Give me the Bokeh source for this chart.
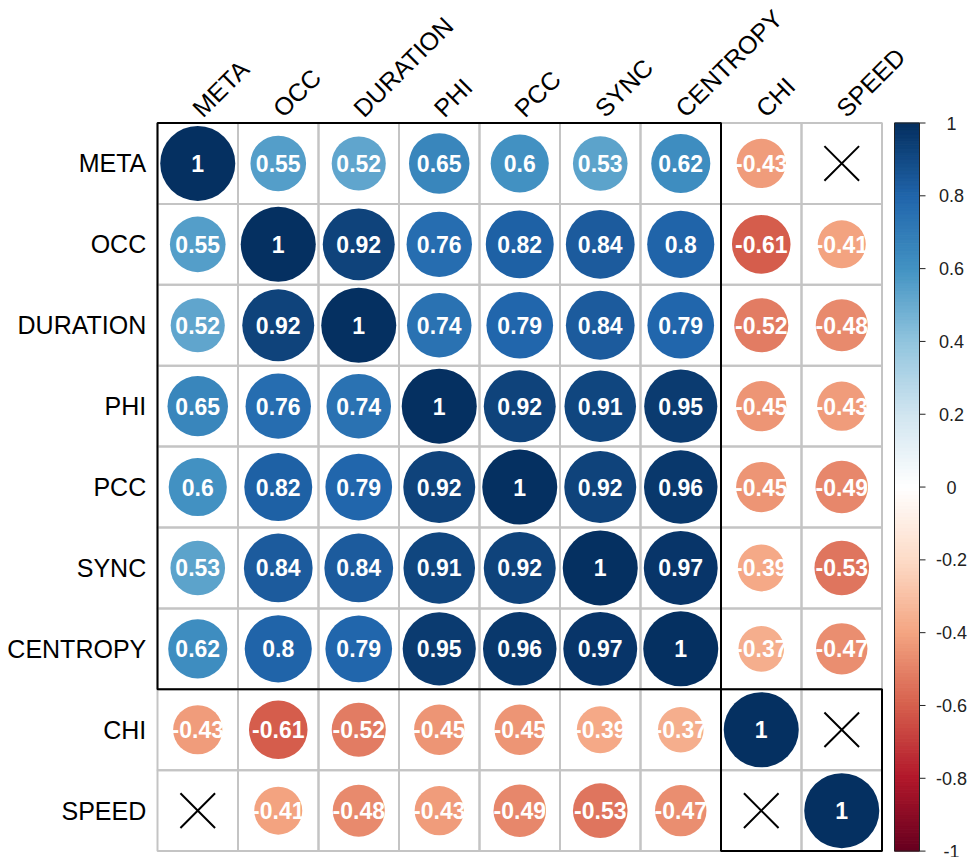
import numpy as np
from bokeh.plotting import figure
from bokeh.models import Range1d, ColumnDataSource, LinearColorMapper
from bokeh.transform import transform
from bokeh.core.properties import value
from bokeh.embed import file_html
from bokeh.resources import INLINE

# ---------------- data ----------------
variables = ["META", "OCC", "DURATION", "PHI", "PCC", "SYNC", "CENTROPY", "CHI", "SPEED"]
corr_meta     = [1.00, 0.55, 0.52, 0.65, 0.60, 0.53, 0.62, -0.43, None]
corr_occ      = [0.55, 1.00, 0.92, 0.76, 0.82, 0.84, 0.80, -0.61, -0.41]
corr_duration = [0.52, 0.92, 1.00, 0.74, 0.79, 0.84, 0.79, -0.52, -0.48]
corr_phi      = [0.65, 0.76, 0.74, 1.00, 0.92, 0.91, 0.95, -0.45, -0.43]
corr_pcc      = [0.60, 0.82, 0.79, 0.92, 1.00, 0.92, 0.96, -0.45, -0.49]
corr_sync     = [0.53, 0.84, 0.84, 0.91, 0.92, 1.00, 0.97, -0.39, -0.53]
corr_centropy = [0.62, 0.80, 0.79, 0.95, 0.96, 0.97, 1.00, -0.37, -0.47]
corr_chi      = [-0.43, -0.61, -0.52, -0.45, -0.45, -0.39, -0.37, 1.00, None]
corr_speed    = [None, -0.41, -0.48, -0.43, -0.49, -0.53, -0.47, None, 1.00]
corr_rows = [corr_meta, corr_occ, corr_duration, corr_phi, corr_pcc,
             corr_sync, corr_centropy, corr_chi, corr_speed]
cluster_sizes = [7, 2]
colorbar_ticks = [1, 0.8, 0.6, 0.4, 0.2, 0, -0.2, -0.4, -0.6, -0.8, -1]

# ---------------- palette (corrplot COL2 'RdBu', 200) ----------------
anchors = ["#67001F", "#B2182B", "#D6604D", "#F4A582", "#FDDBC7", "#FFFFFF",
           "#D1E5F0", "#92C5DE", "#4393C3", "#2166AC", "#053061"]
argb = np.array([[int(h[i:i + 2], 16) for i in (1, 3, 5)] for h in anchors], float)
t_anchor = np.linspace(0, 1, len(anchors))
t_pal = np.linspace(0, 1, 200)
pal = []
for t in t_pal:
    c = [np.interp(t, t_anchor, argb[:, k]) for k in range(3)]
    pal.append("#%02x%02x%02x" % tuple(int(round(v)) for v in c))
mapper = LinearColorMapper(palette=pal, low=-1, high=1)

n = len(variables)
CW, CH = 80.5, 80.9
W, H = 969, 857
x0 = -157 / CW
y0 = -122.5 / CH

p = figure(width=W, height=H, output_backend="svg", toolbar_location=None,
           x_range=Range1d(x0, x0 + W / CW), y_range=Range1d(y0 + H / CH, y0),
           min_border=0, outline_line_color=None)
p.axis.visible = False
p.grid.visible = False
p.background_fill_color = "white"

# cell grid
gx, gy = [], []
for i in range(n):
    for j in range(n):
        gx.append(j + 0.5)
        gy.append(i + 0.5)
p.rect(x=gx, y=gy, width=1, height=1, fill_color=None,
       line_color="#C4C4C4", line_width=2)

# circles + numbers
cx, cy, cv, cr, ct = [], [], [], [], []
xx, xy = [], []
for i, row in enumerate(corr_rows):
    for j, v in enumerate(row):
        if v is None:
            xx.append(j + 0.5)
            xy.append(i + 0.5)
            continue
        cx.append(j + 0.5)
        cy.append(i + 0.5)
        cv.append(v)
        cr.append(0.466 * np.sqrt(abs(v)))
        ct.append(("%.2f" % v).rstrip("0").rstrip(".") if v != 1 else "1")
src = ColumnDataSource(dict(x=cx, y=cy, v=cv, r=cr, t=ct))
p.circle(x="x", y="y", radius="r", source=src,
         fill_color=transform("v", mapper), line_color=None)
p.text(x="x", y="y", text="t", source=src, text_color="white",
       text_align="center", text_baseline="middle",
       text_font=value("Liberation Sans"), text_font_style="bold",
       text_font_size="23px")

# insignificant crosses
p.scatter(x=xx, y=xy, marker="x", size=49, line_color="black", line_width=2)

# cluster rectangles
start = 0
for s in cluster_sizes:
    p.rect(x=[start + s / 2], y=[start + s / 2], width=s, height=s,
           fill_color=None, line_color="black", line_width=2)
    start += s

# axis labels
p.text(x=[-0.14] * n, y=[i + 0.5 for i in range(n)], text=variables,
       text_align="right", text_baseline="middle", text_color="black",
       text_font=value("Liberation Sans"), text_font_size="25px")
p.text(x=[j + 0.61 for j in range(n)], y=[-0.01] * n, text=variables,
       angle=np.pi / 4, text_align="left", text_baseline="bottom",
       text_color="black", text_font=value("Liberation Sans"),
       text_font_size="25px")

# colour bar
cb_left = n + 12.5 / CW
cb_right = cb_left + 25 / CW
levels = np.linspace(-1, 1, len(pal) + 1)
to_y = lambda v: (1 - v) / 2 * n
p.quad(left=cb_left, right=cb_right,
       top=[to_y(levels[k + 1]) for k in range(len(pal))],
       bottom=[to_y(levels[k]) for k in range(len(pal))],
       fill_color=pal, line_color=pal, line_width=1)
p.rect(x=[(cb_left + cb_right) / 2], y=[n / 2], width=cb_right - cb_left, height=n,
       fill_color=None, line_color="#222222", line_width=1)
ty = [to_y(v) for v in colorbar_ticks]
p.segment(x0=cb_right, x1=cb_right + 6 / CW, y0=ty, y1=ty, line_color="#222222", line_width=1)
p.text(x=[cb_right + 32 / CW] * len(ty), y=ty,
       text=[("%g" % v) for v in colorbar_ticks],
       text_align="center", text_baseline="middle", text_color="#222222",
       text_font=value("Liberation Sans"), text_font_size="18px")

open("out.html", "w").write(file_html(p, INLINE))
